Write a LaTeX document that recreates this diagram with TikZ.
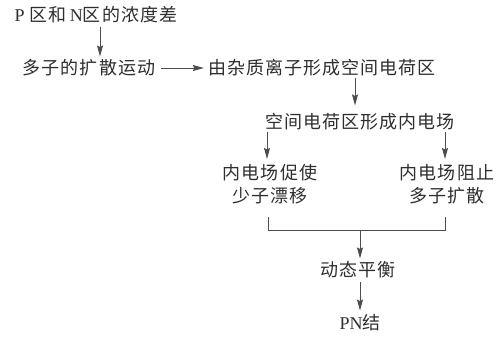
\documentclass[tikz,border=0pt]{standalone}
\usepackage{fontspec}
\setmainfont{Liberation Serif}
\newfontfamily\cjk[LetterSpace=6]{Noto Sans CJK SC}
\usetikzlibrary{arrows.meta}
\definecolor{ink}{HTML}{2E2E2E}
\begin{document}
\begin{tikzpicture}[x=1bp,y=-1bp,
  lbl/.style={inner sep=0pt,text=ink,font=\fontsize{18bp}{23bp}\selectfont\cjk,align=center},
  ln/.style={draw=ink!85,line width=0.9bp},
  arr/.style={ln,-{Stealth[length=11bp,width=6bp,inset=1.5bp]}}]
\useasboundingbox (0,0) rectangle (498,342);
\node[lbl] (n1) at (96,15) {{\rmfamily P} 区和{\rmfamily\,N}区的浓度差};
\node[lbl] (n2) at (89,68) {多子的扩散运动};
\node[lbl] (n3) at (322,68) {由杂质离子形成空间电荷区};
\node[lbl] (n4) at (360,122) {空间电荷区形成内电场};
\node[lbl] (n5) at (270,184) {内电场促使\\少子漂移};
\node[lbl] (n6) at (447,184) {内电场阻止\\多子扩散};
\node[lbl] (n7) at (358,270) {动态平衡};
\node[lbl] (n8) at (360,323) {{\rmfamily PN}结};
\coordinate (bl) at (268,230);
\coordinate (br) at (445,230);
\coordinate (m) at (360,230);
\draw[arr] (n1.south -| 100,0) ++(0,3) -- ([shift={(0,-3)}]n2.north -| 100,0);
\draw[arr] ([shift={(6,0)}]n2.east) -- ([shift={(-4,0)}]n3.west);
\draw[arr] ([shift={(0,1)}]n3.south -| 355,0) -- ([shift={(0,-8)}]n4.north -| 355,0);
\draw[arr] ([shift={(0,1)}]n4.south -| 267,0) -- ([shift={(0,-5)}]n5.north -| 267,0);
\draw[arr] ([shift={(0,1)}]n4.south -| 445,0) -- ([shift={(0,-5)}]n6.north -| 445,0);
\draw[ln] (bl |- 0,217) -- (bl) -- (br) -- (br |- 0,217);
\draw[arr] (m) -- ([shift={(0,-3)}]n7.north -| m);
\draw[arr] ([shift={(0,3)}]n7.south -| m) -- ([shift={(0,-4)}]n8.north -| m);
\end{tikzpicture}
\end{document}
